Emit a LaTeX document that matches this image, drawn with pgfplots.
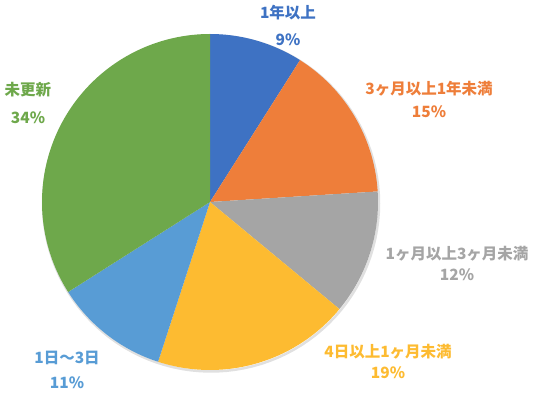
\documentclass[border=0pt]{standalone}
\usepackage{fontspec}
\usepackage{pgfplots}
\pgfplotsset{compat=1.18}
\setmainfont{Noto Sans CJK JP}
\definecolor{cBlue}{HTML}{3E72C3}
\definecolor{cOrange}{HTML}{EE7E3A}
\definecolor{cGray}{HTML}{A5A5A5}
\definecolor{cYellow}{HTML}{FDBB31}
\definecolor{cLBlue}{HTML}{589CD5}
\definecolor{cGreen}{HTML}{6EA84B}
\tikzset{lab/.style={font=\fontsize{15.5}{17}\selectfont\bfseries, inner sep=0pt}}
% values (percent): 9, 15, 12, 19, 11, 34 -> cumulative angles clockwise from 90 deg
\begin{document}
\begin{tikzpicture}
\begin{axis}[scale only axis, width=535pt, height=396pt, hide axis,
  xmin=0, xmax=535, ymin=0, ymax=396, clip=false]
\path (axis cs:0,0) rectangle (axis cs:535,396);
% soft shadow ring
\addplot[draw=black!12, line width=2.5pt, domain=0:360, samples=120, variable=\t, forget plot]
  ({211+168*cos(\t)},{192.5+168*sin(\t)});
% slices
\addplot[fill=cBlue, draw=none, domain=57.6:90, samples=30, variable=\t]
  ({210+168*cos(\t)},{194+168*sin(\t)}) -- (axis cs:210,194) -- cycle;
\addplot[fill=cOrange, draw=none, domain=3.6:57.6, samples=40, variable=\t]
  ({210+168*cos(\t)},{194+168*sin(\t)}) -- (axis cs:210,194) -- cycle;
\addplot[fill=cGray, draw=none, domain=-39.6:3.6, samples=40, variable=\t]
  ({210+168*cos(\t)},{194+168*sin(\t)}) -- (axis cs:210,194) -- cycle;
\addplot[fill=cYellow, draw=none, domain=-108:-39.6, samples=50, variable=\t]
  ({210+168*cos(\t)},{194+168*sin(\t)}) -- (axis cs:210,194) -- cycle;
\addplot[fill=cLBlue, draw=none, domain=-147.6:-108, samples=40, variable=\t]
  ({210+168*cos(\t)},{194+168*sin(\t)}) -- (axis cs:210,194) -- cycle;
\addplot[fill=cGreen, draw=none, domain=-270:-147.6, samples=80, variable=\t]
  ({210+168*cos(\t)},{194+168*sin(\t)}) -- (axis cs:210,194) -- cycle;
% labels
\node[lab, text=cBlue] at (axis cs:288,383) {1年以上};
\node[lab, text=cBlue] at (axis cs:288,356) {9\%};
\node[lab, text=cOrange] at (axis cs:429,307) {3ヶ月以上1年未満};
\node[lab, text=cOrange] at (axis cs:429,284) {15\%};
\node[lab, text=cGray] at (axis cs:457,142) {1ヶ月以上3ヶ月未満};
\node[lab, text=cGray] at (axis cs:457,121) {12\%};
\node[lab, text=cYellow] at (axis cs:388,44) {4日以上1ヶ月未満};
\node[lab, text=cYellow] at (axis cs:388,23) {19\%};
\node[lab, text=cLBlue] at (axis cs:67,38) {1日〜3日};
\node[lab, text=cLBlue] at (axis cs:67,13) {11\%};
\node[lab, text=cGreen] at (axis cs:28,306) {未更新};
\node[lab, text=cGreen] at (axis cs:28,278) {34\%};
\end{axis}
\end{tikzpicture}
\end{document}
